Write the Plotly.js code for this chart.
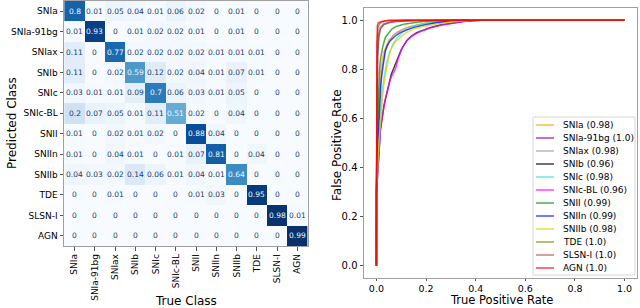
<!DOCTYPE html>
<html><head><meta charset="utf-8">
<script src="https://cdn.plot.ly/plotly-3.0.1.min.js"></script>
<style>html,body{margin:0;padding:0;background:#fff}#chart{width:640px;height:308px}</style>
</head><body><div id="chart"></div>
<script>
// ---------- data ----------
const classes = ["SNIa","SNIa-91bg","SNIax","SNIb","SNIc","SNIc-BL","SNII","SNIIn","SNIIb","TDE","SLSN-I","AGN"];
// confusion matrix rows = predicted class, columns = true class
const cmSNIa    = [0.8, 0.01, 0.05, 0.04, 0.01, 0.06, 0.02, 0, 0.01, 0, 0, 0];
const cmSNIa91bg= [0.01, 0.93, 0, 0.01, 0.02, 0.02, 0.01, 0, 0.01, 0, 0, 0];
const cmSNIax   = [0.11, 0, 0.77, 0.02, 0.02, 0.02, 0.02, 0.01, 0.01, 0.01, 0, 0];
const cmSNIb    = [0.11, 0, 0.02, 0.59, 0.12, 0.02, 0.04, 0.01, 0.07, 0.01, 0, 0];
const cmSNIc    = [0.03, 0.01, 0.01, 0.09, 0.7, 0.06, 0.03, 0.01, 0.05, 0, 0, 0];
const cmSNIcBL  = [0.2, 0.07, 0.05, 0.01, 0.11, 0.51, 0.02, 0, 0.04, 0, 0, 0];
const cmSNII    = [0.01, 0, 0.02, 0.01, 0.02, 0, 0.88, 0.04, 0, 0, 0, 0];
const cmSNIIn   = [0.01, 0, 0.04, 0.01, 0, 0.01, 0.07, 0.81, 0, 0.04, 0, 0];
const cmSNIIb   = [0.04, 0.03, 0.02, 0.14, 0.06, 0.01, 0.04, 0.01, 0.64, 0, 0, 0];
const cmTDE     = [0, 0, 0.01, 0, 0, 0, 0.01, 0.03, 0, 0.95, 0, 0];
const cmSLSN    = [0, 0, 0, 0, 0, 0, 0, 0, 0, 0, 0.98, 0.01];
const cmAGN     = [0, 0, 0, 0, 0, 0, 0, 0, 0, 0, 0, 0.99];
const cm = [cmSNIa, cmSNIa91bg, cmSNIax, cmSNIb, cmSNIc, cmSNIcBL, cmSNII, cmSNIIn, cmSNIIb, cmTDE, cmSLSN, cmAGN];

// ROC curves (x = plotted on "True Positive Rate" axis, y = "False Positive Rate" axis, as labelled in source)
const aucs = ["0.98","1.0","0.98","0.96","0.98","0.96","0.99","0.99","0.98","1.0","1.0","1.0"];
const rocX_SNIa   = [0,0,0.004,0.01,0.02,0.03,0.05,0.08,0.12,0.18,0.26,0.35,1];
const rocY_SNIa   = [0,0.3,0.5,0.7,0.82,0.87,0.92,0.95,0.97,0.985,0.995,1,1];
const rocX_91bg   = [0,0,0.005,0.01,0.016,0.03,0.05,0.08,0.15,0.25,1];
const rocY_91bg   = [0,0.3,0.85,0.93,0.965,0.983,0.99,0.995,0.998,1,1];
const rocX_SNIax  = [0,0,0.005,0.012,0.022,0.035,0.05,0.07,0.1,0.14,0.2,0.28,0.36,1];
const rocY_SNIax  = [0,0.3,0.5,0.68,0.8,0.87,0.91,0.94,0.96,0.975,0.987,0.995,1,1];
const rocX_SNIb   = [0,0,0.008,0.016,0.03,0.045,0.06,0.072,0.083,0.1,0.122,0.14,0.162,0.19,0.216,0.26,0.31,0.36,0.42,1];
const rocY_SNIb   = [0,0.3,0.42,0.55,0.65,0.72,0.78,0.81,0.837,0.88,0.917,0.935,0.95,0.962,0.97,0.982,0.99,0.996,1,1];
const rocX_SNIc   = [0,0,0.008,0.015,0.022,0.03,0.04,0.05,0.065,0.085,0.11,0.15,0.2,0.28,0.35,1];
const rocY_SNIc   = [0,0.3,0.45,0.58,0.694,0.76,0.82,0.86,0.9,0.93,0.955,0.975,0.988,0.996,1,1];
const rocX_SNIcBL = [0,0,0.009,0.016,0.026,0.036,0.046,0.056,0.066,0.076,0.09,0.105,0.125,0.15,0.18,0.216,0.26,0.31,0.36,0.42,1];
const rocY_SNIcBL = [0,0.3,0.44,0.56,0.62,0.68,0.72,0.76,0.78,0.8,0.85,0.89,0.92,0.94,0.955,0.968,0.98,0.99,0.997,1,1];
const rocX_SNII   = [0,0,0.004,0.008,0.012,0.016,0.025,0.036,0.05,0.062,0.08,0.11,0.15,0.19,0.25,0.3,1];
const rocY_SNII   = [0,0.3,0.55,0.7,0.79,0.84,0.89,0.93,0.95,0.964,0.975,0.984,0.99,0.995,0.998,1,1];
const rocX_SNIIn  = [0,0,0.006,0.012,0.018,0.022,0.03,0.036,0.045,0.056,0.075,0.096,0.12,0.149,0.19,0.24,0.3,0.36,1];
const rocY_SNIIn  = [0,0.3,0.5,0.65,0.74,0.78,0.84,0.877,0.9,0.917,0.935,0.95,0.96,0.97,0.98,0.99,0.997,1,1];
const rocX_SNIIb  = [0,0,0.01,0.018,0.024,0.029,0.04,0.056,0.075,0.096,0.12,0.149,0.19,0.24,0.3,0.38,1];
const rocY_SNIIb  = [0,0.3,0.5,0.62,0.68,0.73,0.8,0.877,0.91,0.93,0.95,0.964,0.976,0.984,0.993,1,1];
const rocX_TDE    = [0,0,0.004,0.008,0.015,0.03,0.06,0.12,1];
const rocY_TDE    = [0,0.35,0.85,0.94,0.97,0.985,0.995,1,1];
const rocX_SLSN   = [0,0,0.003,0.006,0.015,0.04,0.1,1];
const rocY_SLSN   = [0,0.4,0.9,0.97,0.99,0.998,1,1];
const rocX_AGN    = [0,0,0.002,0.004,0.008,0.02,0.05,1];
const rocY_AGN    = [0,0.3,0.9,0.98,0.99,0.995,1,1];
const rocX = [rocX_SNIa, rocX_91bg, rocX_SNIax, rocX_SNIb, rocX_SNIc, rocX_SNIcBL, rocX_SNII, rocX_SNIIn, rocX_SNIIb, rocX_TDE, rocX_SLSN, rocX_AGN];
const rocY = [rocY_SNIa, rocY_91bg, rocY_SNIax, rocY_SNIb, rocY_SNIc, rocY_SNIcBL, rocY_SNII, rocY_SNIIn, rocY_SNIIb, rocY_TDE, rocY_SLSN, rocY_AGN];
const tickVals = [0, 0.2, 0.4, 0.6, 0.8, 1.0];

// ---------- styles ----------
const lineColors = ["rgba(255,165,0,0.75)","rgba(150,0,160,0.75)","rgba(160,160,160,0.75)","rgba(0,0,0,0.75)",
  "rgba(64,224,208,0.75)","rgba(255,0,255,0.75)","rgba(0,140,0,0.7)","rgba(0,0,255,0.7)",
  "rgba(215,215,0,0.75)","rgba(128,128,0,0.7)","rgba(165,42,42,0.6)","rgba(255,0,0,0.75)"];
const blues = [[0,"#f7fbff"],[0.125,"#deebf7"],[0.25,"#c6dbef"],[0.375,"#9ecae1"],[0.5,"#6baed6"],
  [0.625,"#4292c6"],[0.75,"#2171b5"],[0.875,"#08519c"],[1,"#08306b"]];
const FONT = "DejaVu Sans";
const W = 640, H = 308;
const px = x => x / W, py = y => (H - y) / H;

const traces = [{
  type: "heatmap", z: cm, x: classes, y: classes, xaxis: "x", yaxis: "y",
  colorscale: blues, zmin: 0, zmax: 0.99, showscale: false, hoverinfo: "skip"
}];
classes.forEach((c, i) => {
  traces.push({
    type: "scatter", mode: "lines", x: rocX[i], y: rocY[i], xaxis: "x2", yaxis: "y2",
    name: c + " (" + aucs[i] + ")", line: {color: lineColors[i], width: 1.5}, showlegend: false
  });
});

const annotations = [];
cm.forEach((row, i) => row.forEach((v, j) => {
  annotations.push({xref: "x", yref: "y", x: classes[j], y: classes[i], text: String(v), showarrow: false,
    font: {family: FONT, size: 7.5, color: v > 0.4 ? "#f0f6fc" : "#1b3a6b"}});
}));
const titleFont = {family: FONT, size: 12, color: "#000"};
const axTitleFont = {family: FONT, size: 11.5, color: "#000"};
annotations.push({xref:"paper",yref:"paper",x:px(186),y:py(301),text:"True Class",showarrow:false,font:titleFont,xanchor:"center",yanchor:"middle",borderpad:0});
annotations.push({xref:"paper",yref:"paper",x:px(12),y:py(123),text:"Predicted Class",showarrow:false,font:titleFont,textangle:-90,xanchor:"center",yanchor:"middle"});
annotations.push({xref:"paper",yref:"paper",x:px(501),y:py(308),text:"True Positive Rate",showarrow:false,font:axTitleFont,xanchor:"center",yanchor:"bottom",borderpad:0});
annotations.push({xref:"paper",yref:"paper",x:px(337),y:py(145),text:"False Positive Rate",showarrow:false,font:titleFont,textangle:-90,xanchor:"center",yanchor:"middle"});

// manual legend (matplotlib-style compact spacing)
const shapes = [{type:"rect",xref:"paper",yref:"paper",x0:px(533),x1:px(635),y0:py(275),y1:py(117),
  line:{color:"#d6d6d6",width:1},fillcolor:"rgba(255,255,255,0.9)"}];
classes.forEach((c, i) => {
  const yy = py(125 + 13.0 * i);
  shapes.push({type:"line",xref:"paper",yref:"paper",x0:px(536),x1:px(554),y0:yy,y1:yy,line:{color:lineColors[i],width:1.5}});
  annotations.push({xref:"paper",yref:"paper",x:px(561),y:yy,text:c + " (" + aucs[i] + ")",showarrow:false,
    xanchor:"left",yanchor:"middle",font:{family:FONT,size:9,color:"#000"}});
});

const frame = {showline:true, mirror:true, linecolor:"#a0a0a0", linewidth:1, ticks:"outside", ticklen:3.5,
  tickcolor:"#555", showgrid:false, zeroline:false};
const layout = {
  width: W, height: H, margin: {l:0, r:0, t:0, b:0}, paper_bgcolor:"#fff", plot_bgcolor:"#fff",
  font: {family: FONT, color: "#000"}, showlegend: false,
  xaxis: Object.assign({}, frame, {domain:[px(64), px(308)], anchor:"y", tickangle:-90, tickfont:{family:FONT,size:9}}),
  yaxis: Object.assign({}, frame, {domain:[py(246), py(1)], anchor:"x", autorange:"reversed", tickfont:{family:FONT,size:9}}),
  xaxis2: Object.assign({}, frame, {domain:[px(364), px(637)], anchor:"y2", range:[-0.05,1.05], tickvals:tickVals,
    tickformat:".1f", tickfont:{family:FONT,size:9.5}, ticklen:2}),
  yaxis2: Object.assign({}, frame, {domain:[py(278), py(8)], anchor:"x2", range:[-0.05,1.05], tickvals:tickVals,
    tickformat:".1f", tickfont:{family:FONT,size:10}}),
  annotations: annotations, shapes: shapes
};
Plotly.newPlot("chart", traces, layout, {staticPlot:true, displayModeBar:false});
</script></body></html>
